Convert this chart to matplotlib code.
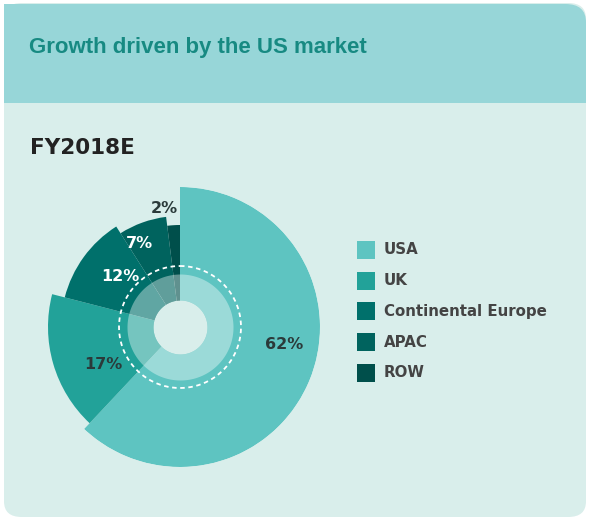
import numpy as np
import matplotlib
matplotlib.use("Agg")
import matplotlib.pyplot as plt
from matplotlib.patches import FancyBboxPatch, Rectangle

regions = ["USA", "UK", "Continental Europe", "APAC", "ROW"]
shares = [62, 17, 12, 7, 2]
labels = ["62%", "17%", "12%", "7%", "2%"]

colors = ["#5ec4c1", "#22a299", "#00706b", "#00635e", "#004f4b"]
outer_r = [140, 132, 119, 111, 102]
label_r = [106, 86, 78, 93, 120]
label_shift = [-12, -10, 4, -6, -4]
label_col = ["#2b3a3a", "#2b3a3a", "white", "white", "#2b3a3a"]

W, H = 591, 521
fig = plt.figure(figsize=(W / 100, H / 100), dpi=100)
fig.patch.set_facecolor("white")

# panel and header band (pixel coords via figure transform)
px = lambda x, y: (x / W, 1 - y / H)
bg = "#d9eeeb"
hd = "#97d6d8"
back = [
    FancyBboxPatch((4 / W, 4 / H), 582 / W, 514 / H,
                   boxstyle="round,pad=0,rounding_size=0.03", fc=bg, ec="none"),
    FancyBboxPatch((4 / W, 1 - 103 / H), 582 / W, 99 / H,
                   boxstyle="round,pad=0,rounding_size=0.035", fc=hd, ec="none"),
    Rectangle((4 / W, 1 - 103 / H), 582 / W, 40 / H, fc=hd, ec="none"),
    Rectangle((4 / W, 1 - 103 / H), 60 / W, 99 / H, fc=hd, ec="none"),
]
for p in back:
    p.set_transform(fig.transFigure)
    p.set_zorder(-5)
    fig.patches.append(p)

fig.text(*px(29, 48), "Growth driven by the US market",
         family=["Liberation Sans", "DejaVu Sans"], fontsize=16, fontweight="bold",
         color="#178a82", va="center", ha="left")
fig.text(*px(30, 148), "FY2018E", fontsize=15.5, fontweight="bold",
         color="#222222", va="center", ha="left")

# rose-style pie
ax = fig.add_axes([40 / W, 1 - 467 / H, 280 / W, 280 / H], projection="polar")
ax.set_zorder(5)
ax.set_theta_zero_location("N")
ax.set_theta_direction(-1)
ax.set_ylim(0, 140)
ax.axis("off")

widths = np.array(shares) / sum(shares) * 2 * np.pi
starts = np.concatenate([[0], np.cumsum(widths)[:-1]])
ax.bar(starts, outer_r, width=widths, bottom=0, align="edge",
       color=colors, edgecolor="none")

full = np.linspace(0, 2 * np.pi, 400)
ax.fill_between(full, 27, 53, color="white", alpha=0.38, lw=0)
ax.fill_between(full, 0, 27, color=bg, lw=0)
ax.plot(full, np.full_like(full, 61), color="white", lw=1.3, ls=(0, (2.5, 2)))

for s, w, lab, r, sh, c in zip(starts, widths, labels, label_r, label_shift, label_col):
    ax.text(s + w / 2 + np.radians(sh), r, lab, ha="center", va="center",
            fontsize=11.5, fontweight="bold", color=c)

# legend
for i, (name, c) in enumerate(zip(regions, colors)):
    y = 250 + i * 30.7
    sq = Rectangle(px(357, y + 9), 18 / W, 18 / H, transform=fig.transFigure,
                   fc=c, ec="none", zorder=2)
    fig.patches.append(sq)
    fig.text(*px(384, y), name, fontsize=10.8, fontweight="bold",
             color="#444444", va="center", ha="left")

fig.savefig("out.png", dpi=100, facecolor=fig.get_facecolor())
